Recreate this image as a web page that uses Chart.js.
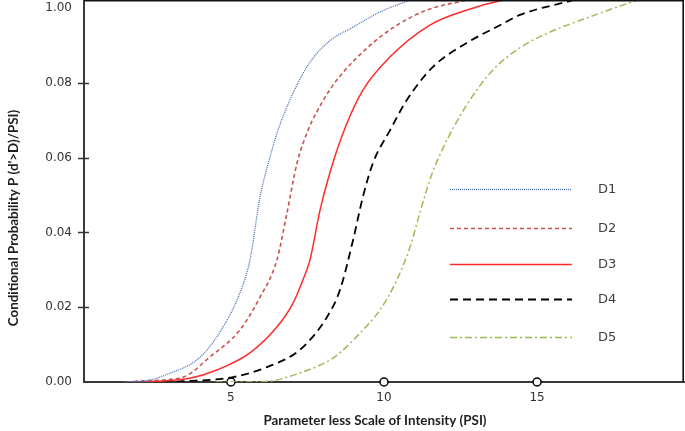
<!DOCTYPE html>
<html>
<head>
<meta charset="utf-8">
<script src="https://cdn.jsdelivr.net/npm/chart.js@4.4.1/dist/chart.umd.min.js"></script>
<style>
  html, body { margin: 0; padding: 0; background: #fff; }
  #wrap { width: 685px; height: 431px; }
</style>
</head>
<body>
<div id="wrap"><canvas id="probChart"></canvas></div>
<script>
// values
const d1X = [1.5, 2.35, 2.9, 4.0, 4.74, 5.29, 5.62, 5.95, 6.27, 6.54, 6.93, 7.48, 8.14, 9.0, 9.87, 10.85];
const d1Y = [0, 0.0005, 0.002, 0.0067, 0.0147, 0.0238, 0.0326, 0.0495, 0.060, 0.0674, 0.0755, 0.0843, 0.0907, 0.095, 0.099, 0.1022];

const d2X = [1.6, 2.1, 3.43, 4.31, 5.29, 5.95, 6.5, 6.83, 7.16, 7.52, 7.8, 8.2, 8.66, 9.44, 10.3, 11.4, 12.7];
const d2Y = [0, 0.0003, 0.0013, 0.0067, 0.0139, 0.0227, 0.0326, 0.0452, 0.0586, 0.0674, 0.0722, 0.0778, 0.0828, 0.0893, 0.0948, 0.0995, 0.1022];

const d3X = [1.6, 2.5, 3.66, 4.54, 5.62, 6.5, 7.03, 7.35, 7.58, 7.91, 8.24, 8.73, 9.31, 10.2, 11.5, 12.9, 13.9];
const d3Y = [0, 0.0002, 0.001, 0.0032, 0.0078, 0.0147, 0.0211, 0.0273, 0.0326, 0.046, 0.0562, 0.068, 0.0781, 0.087, 0.0955, 0.100, 0.1022];

const d4X = [2.8, 3.43, 5.07, 6.18, 7.25, 8.14, 8.56, 8.99, 9.31, 9.64, 10.2, 10.75, 11.6, 12.7, 13.8, 14.44, 16.2];
const d4Y = [0, 0.0002, 0.0013, 0.004, 0.0086, 0.0174, 0.0246, 0.038, 0.0495, 0.0586, 0.0674, 0.0755, 0.0843, 0.0907, 0.0955, 0.0982, 0.1022];

const d5X = [4.5, 5.07, 6.2, 7.25, 8.24, 8.56, 9.31, 9.87, 10.42, 10.85, 11.18, 11.54, 11.9, 12.32, 12.81, 13.56, 14.44, 15.42, 16.73, 18.27];
const d5Y = [0, 0, 0.0002, 0.0024, 0.0059, 0.0078, 0.0139, 0.0193, 0.0273, 0.0361, 0.0455, 0.0551, 0.0621, 0.0688, 0.0755, 0.0835, 0.0894, 0.0936, 0.0977, 0.1022];

const seriesNames = ['D1', 'D2', 'D3', 'D4', 'D5'];
const xTickValues = [5, 10, 15];
const yTickValues = [0, 0.02, 0.04, 0.06, 0.08, 0.1];
const yTickLabels = ['0.00', '0.02', '0.04', '0.06', '0.08', '1.00'];

const toPoints = (xs, ys) => xs.map((x, i) => ({ x: x, y: ys[i] }));

const lineSet = (label, xs, ys, color, dash, width) => ({
    label: label,
    data: toPoints(xs, ys),
    borderColor: color,
    borderDash: dash,
    borderWidth: width,
    pointRadius: 0,
    fill: false,
    cubicInterpolationMode: 'monotone'
});

// legend, frame, titles and y tick marks
const decorations = {
    id: 'decorations',
    afterDraw(chart) {
        const ctx = chart.ctx;
        const area = chart.chartArea;
        const yScale = chart.scales.y;
        ctx.save();

        // top and right frame
        ctx.strokeStyle = '#111';
        ctx.lineWidth = 1.6;
        ctx.setLineDash([]);
        ctx.beginPath();
        ctx.moveTo(area.left, area.top + 0.8);
        ctx.lineTo(area.right - 0.8, area.top + 0.8);
        ctx.lineTo(area.right - 0.8, area.bottom);
        ctx.stroke();

        // y tick marks across the axis
        ctx.strokeStyle = '#333';
        ctx.lineWidth = 1.5;
        yTickValues.slice(1, 5).forEach(v => {
            const py = Math.round(yScale.getPixelForValue(v)) + 0.5;
            ctx.beginPath();
            ctx.moveTo(area.left - 6, py);
            ctx.lineTo(area.left + 5, py);
            ctx.stroke();
        });

        // legend
        const legendY = [189, 228, 264, 299, 337];
        ctx.font = '13px "DejaVu Sans"';
        ctx.textBaseline = 'middle';
        ctx.fillStyle = '#404040';
        seriesNames.forEach((name, i) => {
            const ds = chart.data.datasets[i];
            ctx.strokeStyle = ds.borderColor;
            ctx.lineWidth = ds.borderWidth;
            ctx.setLineDash(ds.borderDash);
            ctx.beginPath();
            ctx.moveTo(450, legendY[i] + 0.5);
            ctx.lineTo(572, legendY[i] + 0.5);
            ctx.stroke();
            ctx.fillText(name, 598, legendY[i] + 1);
        });

        // axis titles
        ctx.setLineDash([]);
        ctx.fillStyle = '#1e1e1e';
        ctx.font = 'bold 13.4px Lato';
        ctx.textAlign = 'center';
        ctx.fillText('Parameter less Scale of Intensity (PSI)', 375, 421);
        ctx.translate(14, 218);
        ctx.rotate(-Math.PI / 2);
        ctx.fillText("Conditional Probability P (d'>D)/PSI)", 0, 0);
        ctx.restore();
    }
};

document.addEventListener('DOMContentLoaded', () => {
    const ctx = document.getElementById('probChart').getContext('2d');
    new Chart(ctx, {
        type: 'line',
        data: {
            datasets: [
                lineSet('D1', d1X, d1Y, '#4a6fb5', [1, 1], 1.3),
                lineSet('D2', d2X, d2Y, '#c8534f', [4, 3], 1.6),
                lineSet('D3', d3X, d3Y, '#ff2b2b', [], 1.5),
                lineSet('D4', d4X, d4Y, '#000000', [8, 5], 1.8),
                lineSet('D5', d5X, d5Y, '#9bbb59', [7, 3, 2, 3], 1.5),
                {
                    label: 'ticks',
                    data: xTickValues.map(x => ({ x: x, y: 0 })),
                    showLine: false,
                    pointRadius: 4,
                    pointBackgroundColor: '#fff',
                    pointBorderColor: '#000',
                    pointBorderWidth: 1.5,
                    clip: false
                }
            ]
        },
        options: {
            responsive: true,
            maintainAspectRatio: false,
            animation: false,
            layout: { autoPadding: false, padding: { top: 0, right: 1, left: 0, bottom: 0 } },
            plugins: {
                legend: { display: false },
                tooltip: { enabled: false }
            },
            scales: {
                x: {
                    type: 'linear',
                    min: 0.2,
                    max: 19.8,
                    afterBuildTicks: s => { s.ticks = xTickValues.map(v => ({ value: v })); },
                    afterFit: s => { s.height = 49; s.paddingLeft = 0; s.paddingRight = 0; },
                    grid: { display: false, drawTicks: false },
                    border: { color: '#3a3a3a', width: 2 },
                    ticks: {
                        padding: 9,
                        color: '#333',
                        font: { family: 'DejaVu Sans', size: 12 }
                    }
                },
                y: {
                    type: 'linear',
                    min: 0,
                    max: 0.1022,
                    afterBuildTicks: s => { s.ticks = yTickValues.map(v => ({ value: v })); },
                    afterFit: s => { s.width = 84; s.paddingTop = 0; s.paddingBottom = 0; },
                    grid: { display: false, drawTicks: false },
                    border: { color: '#3a3a3a', width: 2 },
                    ticks: {
                        padding: 12,
                        color: '#333',
                        font: { family: 'DejaVu Sans', size: 12 },
                        callback: (value, index) => yTickLabels[index]
                    }
                }
            }
        },
        plugins: [decorations]
    });
});
</script>
</body>
</html>
